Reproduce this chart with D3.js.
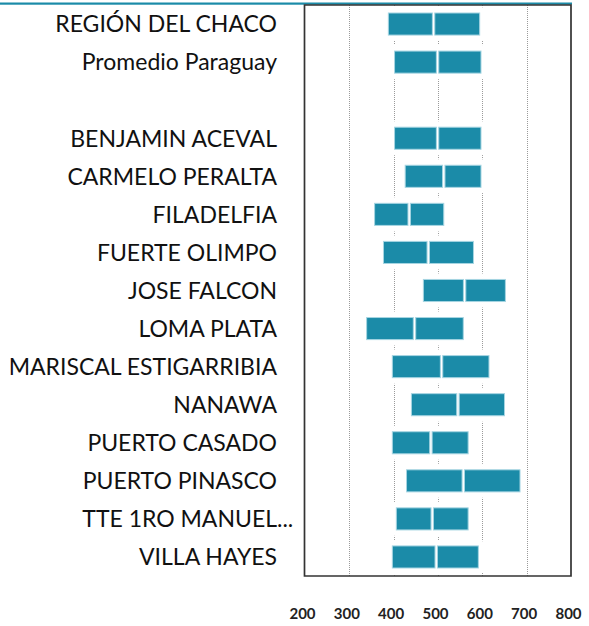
<!DOCTYPE html>
<html>
<head>
<meta charset="utf-8">
<script src="https://cdn.jsdelivr.net/npm/d3@7"></script>
<style>
  html, body { margin: 0; padding: 0; background: #fff; }
  svg { display: block; }
</style>
</head>
<body>
<div id="chart"></div>
<script>
// --- data ---
var categories = [
    'REGIÓN DEL CHACO', 'Promedio Paraguay', '',
    'BENJAMIN ACEVAL', 'CARMELO PERALTA', 'FILADELFIA', 'FUERTE OLIMPO',
    'JOSE FALCON', 'LOMA PLATA', 'MARISCAL ESTIGARRIBIA', 'NANAWA',
    'PUERTO CASADO', 'PUERTO PINASCO', 'TTE 1RO MANUEL...', 'VILLA HAYES'
];
var lowValues  = [388, 402, null, 402, 426, 357, 377, 467, 339, 397, 440, 397, 429, 406, 397];
var midValues  = [490, 499, null, 499, 513, 435, 478, 560, 447, 508, 545, 484, 557, 487, 496];
var highValues = [594, 597, null, 597, 597, 513, 580, 652, 557, 615, 650, 568, 685, 568, 591];
var xTicks = [200, 300, 400, 500, 600, 700, 800];

// --- layout ---
var W = 589, H = 626;
var plot = { left: 305, right: 571, top: 5, bottom: 576 };
var teal = '#1b8ba8';
var labelFont = 'Lato, "Open Sans", sans-serif';

var svg = d3.select('#chart').append('svg')
    .attr('width', W).attr('height', H);

var x = d3.scaleLinear().domain([200, 800]).range([plot.left, plot.right]);
var y = d3.scaleBand().domain(categories).range([plot.top, plot.bottom]).paddingInner(0.42).paddingOuter(0.21);

// teal rule across the top
svg.append('rect')
    .attr('x', 0).attr('y', 2.5).attr('width', 572).attr('height', 2.2)
    .attr('fill', teal);

// dotted gridlines
svg.append('g').selectAll('line')
    .data(xTicks.filter(function (t) { return t > 200 && t < 800; }))
    .join('line')
    .attr('x1', function (d) { return Math.round(x(d)) + 0.5; })
    .attr('x2', function (d) { return Math.round(x(d)) + 0.5; })
    .attr('y1', plot.top).attr('y2', plot.bottom)
    .attr('stroke', '#9a9a9a')
    .attr('stroke-width', 1)
    .attr('stroke-dasharray', '1,1');

var rows = categories.map(function (c, i) {
    return { cat: c, low: lowValues[i], mid: midValues[i], high: highValues[i] };
}).filter(function (d) { return d.low != null; });

// white glow behind bars (hides the gridlines near each bar)
svg.append('g').selectAll('rect')
    .data(rows)
    .join('rect')
    .attr('x', function (d) { return x(d.low) - 6; })
    .attr('y', function (d) { return y(d.cat) - 6; })
    .attr('width', function (d) { return x(d.high) - x(d.low) + 12; })
    .attr('height', y.bandwidth() + 12)
    .attr('rx', 5)
    .attr('fill', '#fff');

// two segments per bar: low -> mid, mid -> high
var segs = [];
rows.forEach(function (d) {
    segs.push({ cat: d.cat, from: d.low, to: d.mid, side: 0 });
    segs.push({ cat: d.cat, from: d.mid, to: d.high, side: 1 });
});
svg.append('g').selectAll('rect')
    .data(segs)
    .join('rect')
    .attr('x', function (d) { return x(d.from) + (d.side ? 1.2 : 0); })
    .attr('y', function (d) { return y(d.cat); })
    .attr('width', function (d) { return x(d.to) - x(d.from) - 1.2; })
    .attr('height', y.bandwidth())
    .attr('fill', teal)
    .attr('stroke', '#a6d5e2')
    .attr('stroke-width', 1);

// plot frame
svg.append('path')
    .attr('d', 'M' + (plot.left - 0.5) + ',' + (plot.top) +
        'V' + (plot.bottom) + 'H' + (plot.right) + 'V' + plot.top + 'Z')
    .attr('fill', 'none')
    .attr('stroke', '#333')
    .attr('stroke-width', 1.7);

// category labels
var labels = svg.append('g')
    .attr('font-family', labelFont)
    .attr('font-size', 23)
    .attr('fill', '#111')
    .selectAll('text')
    .data(categories.filter(function (c) { return c !== ''; }))
    .join('text')
    .attr('x', 277)
    .attr('y', function (d) { return y(d) + y.bandwidth() / 2; })
    .attr('dy', '0.36em')
    .attr('text-anchor', 'end')
    .text(function (d) { return d; });

// let a trailing ellipsis hang past the label edge, as in the source
labels.each(function (d) {
    if (/\.\.\.$/.test(d)) {
        var probe = svg.append('text')
            .attr('font-family', labelFont)
            .attr('font-size', 23).text('...');
        var w = probe.node().getComputedTextLength();
        probe.remove();
        d3.select(this).attr('x', 277 + w);
    }
});

// x axis labels (no ticks, set well below the frame)
var xAxis = d3.axisBottom(x).tickValues(xTicks).tickSize(0).tickPadding(0);
var gx = svg.append('g')
    .attr('transform', 'translate(-3,' + 608 + ')')
    .call(xAxis);
gx.select('.domain').remove();
gx.selectAll('text')
    .attr('font-family', labelFont)
    .attr('font-size', 15)
    .attr('font-weight', 'bold')
    .attr('fill', '#222');
</script>
</body>
</html>
